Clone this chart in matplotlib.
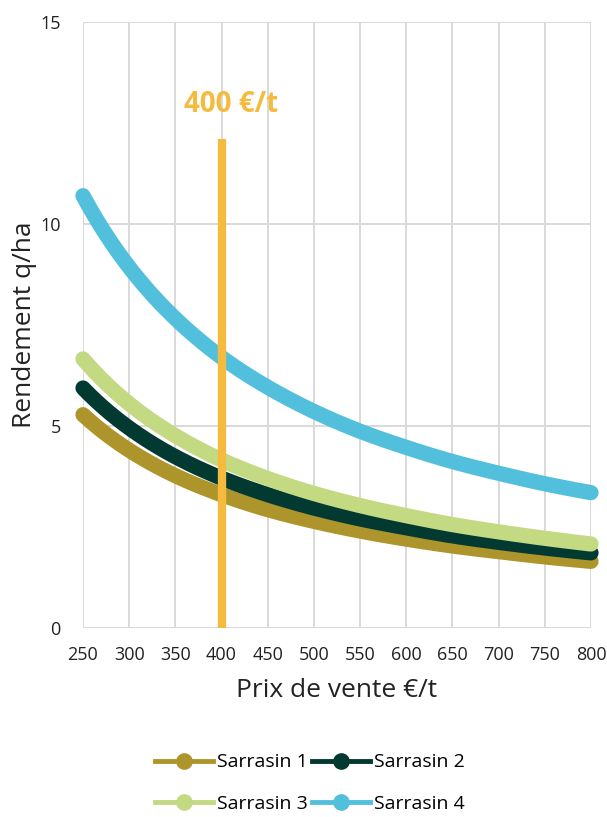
import matplotlib
matplotlib.use("Agg")
import matplotlib.pyplot as plt
import numpy as np
from matplotlib.lines import Line2D

prix = [250, 300, 350, 400, 450, 500, 550, 600, 650, 700, 750, 800]
sarrasin_1 = [5.28, 4.40, 3.77, 3.30, 2.93, 2.64, 2.40, 2.20, 2.03, 1.89, 1.76, 1.65]
sarrasin_2 = [5.94, 4.95, 4.24, 3.71, 3.30, 2.97, 2.70, 2.48, 2.28, 2.12, 1.98, 1.86]
sarrasin_3 = [6.66, 5.55, 4.76, 4.16, 3.70, 3.33, 3.03, 2.78, 2.56, 2.38, 2.22, 2.08]
sarrasin_4 = [10.70, 8.93, 7.66, 6.70, 5.96, 5.36, 4.87, 4.47, 4.12, 3.83, 3.57, 3.35]
series_names = ["Sarrasin 1", "Sarrasin 2", "Sarrasin 3", "Sarrasin 4"]
series_colors = ["#AE952B", "#023A31", "#C3D982", "#52C0DD"]
ref_prix = 400
ref_top = 12.1
ref_label = "400 €/t"
x_ticks = list(range(250, 801, 50))
y_ticks = [0, 5, 10, 15]


def smooth(xs, ys, n=20):
    """Smoothed rendering (Catmull-Rom in log-log space) of a line through the data points."""
    lx = np.log(np.asarray(xs, float))
    ly = np.log(np.asarray(ys, float))
    P = np.column_stack([lx, ly])
    P = np.vstack([2 * P[0] - P[1], P, 2 * P[-1] - P[-2]])
    out = []
    t = np.linspace(0, 1, n, endpoint=False)[:, None]
    for i in range(1, len(P) - 2):
        p0, p1, p2, p3 = P[i - 1], P[i], P[i + 1], P[i + 2]
        seg = 0.5 * ((2 * p1) + (-p0 + p2) * t + (2 * p0 - 5 * p1 + 4 * p2 - p3) * t ** 2
                     + (-p0 + 3 * p1 - 3 * p2 + p3) * t ** 3)
        out.append(seg)
    out.append(P[-2][None, :])
    out = np.exp(np.vstack(out))
    return out[:, 0], out[:, 1]


fig = plt.figure(figsize=(6.07, 8.17), dpi=100)
ax = fig.add_axes([83/607, 1-628/817, (591-83)/607, (628-22)/817])

grid_c = "#D9D9D9"
for xv in x_ticks:
    ax.axvline(xv, color=grid_c, lw=1.4, zorder=0)
for yv in y_ticks:
    ax.axhline(yv, color=grid_c, lw=1.4, zorder=0)

for ys, name, c in zip([sarrasin_1, sarrasin_2, sarrasin_3, sarrasin_4], series_names, series_colors):
    sx, sy = smooth(prix, ys)
    ax.plot(sx, sy, color=c, lw=11, solid_capstyle="round", solid_joinstyle="round",
            zorder=2, clip_on=False)

ax.plot([ref_prix, ref_prix], [0, ref_top], color="#F5BB3F", lw=6, solid_capstyle="butt", zorder=3)
ax.text(ref_prix + 10, 12.95, ref_label, color="#F5BB3F", fontsize=20, fontweight="bold",
        ha="center", va="center", family="Open Sans")

ax.set_xlim(250, 800)
ax.set_ylim(0, 15)
ax.set_xticks(x_ticks)
ax.set_yticks(y_ticks)
for s in ax.spines.values():
    s.set_visible(False)
ax.tick_params(length=0, labelsize=13, colors="#222222")
ax.tick_params(axis="x", pad=13)
ax.tick_params(axis="y", pad=16)
for lab in ax.get_xticklabels() + ax.get_yticklabels():
    lab.set_family("Open Sans")

ax.set_xlabel("Prix de vente €/t", fontsize=19, family="Open Sans", color="#222222", labelpad=10)
ax.set_ylabel("Rendement q/ha", fontsize=19, family="Open Sans", color="#222222", labelpad=2)

order = [0, 2, 1, 3]
handles = [Line2D([0], [0], color=series_colors[i], lw=3.5, marker="o", markersize=11) for i in order]
labels = [series_names[i] for i in order]
fig.legend(handles, labels, loc="center", bbox_to_anchor=(310/607, 1-783/817), ncol=2,
           frameon=False, prop={"family": "Open Sans", "size": 14}, handlelength=3.0,
           handletextpad=0.2, columnspacing=0.2, labelspacing=1.2)

fig.savefig("out.png", dpi=100, facecolor="white")
